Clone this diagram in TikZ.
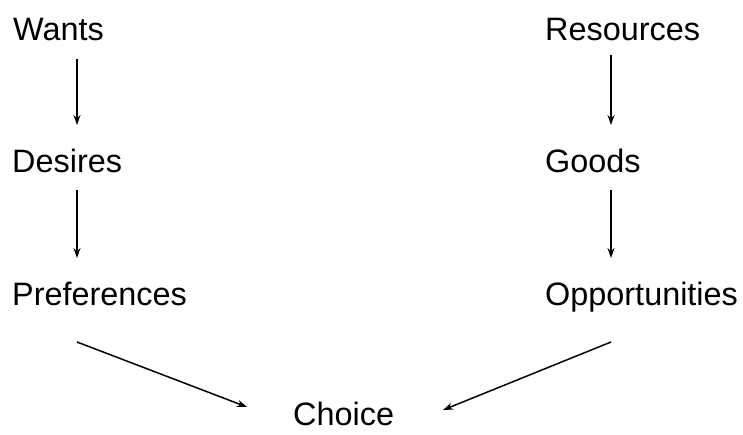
\documentclass[tikz,border=0pt]{standalone}
\usepackage{fontspec}
\setmainfont{Liberation Sans}
\usetikzlibrary{arrows.meta}
\begin{document}
\begin{tikzpicture}[x=1pt,y=-1pt,
  lbl/.style={anchor=base west,inner sep=0pt,font=\fontsize{32.4}{38}\selectfont},
  arr/.style={-{Stealth[length=10pt,width=7pt]},line width=1.5pt}]
\useasboundingbox (0,0) rectangle (743,434);
\node[lbl] (wants) at (13,40) {Wants};
\node[lbl] (desires) at (12,172) {Desires};
\node[lbl] (prefs) at (12,305) {Preferences};
\node[lbl] (res) at (545,40) {Resources};
\node[lbl] (goods) at (545,172) {Goods};
\node[lbl] (opps) at (545,305) {Opportunities};
\node[lbl] (choice) at (293,425) {Choice};
\draw[arr] ([shift={(64,19)}]wants.base west) -- ([shift={(65,-47)}]desires.base west);
\draw[arr] ([shift={(65,18)}]desires.base west) -- ([shift={(65,-47)}]prefs.base west);
\draw[arr] ([shift={(66,15)}]res.base west) -- ([shift={(66,-47)}]goods.base west);
\draw[arr] ([shift={(66,18)}]goods.base west) -- ([shift={(66,-47)}]opps.base west);
\draw[arr] ([shift={(65,37)}]prefs.base west) -- ([shift={(-46,-18)}]choice.base west);
\draw[arr] ([shift={(66,37)}]opps.base west) -- ([shift={(150,-15)}]choice.base west);
\end{tikzpicture}
\end{document}
